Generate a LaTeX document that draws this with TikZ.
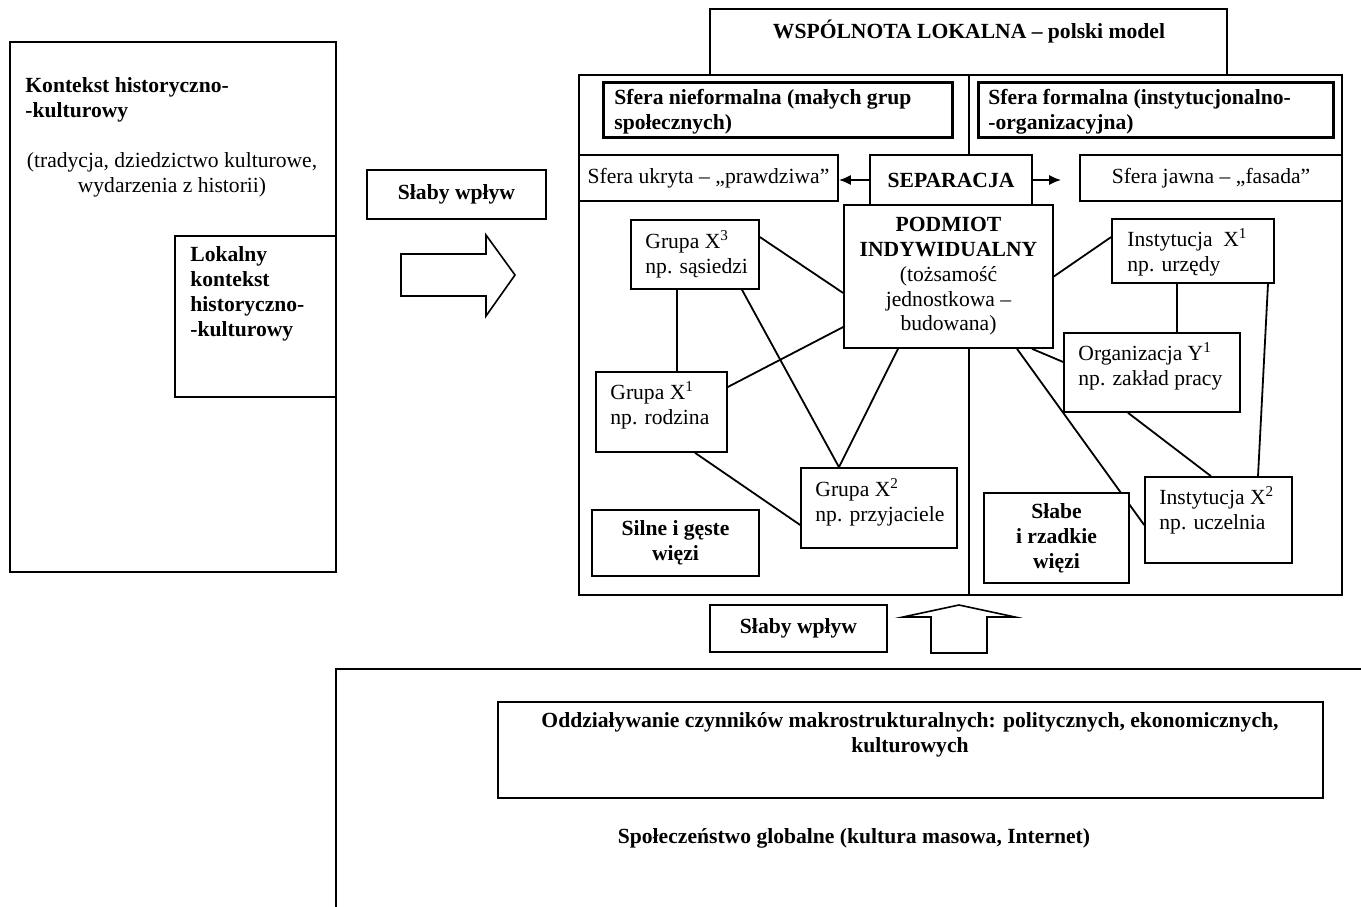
\documentclass[tikz,border=0pt]{standalone}
\usepackage{fontspec}
\setmainfont{Liberation Serif}
\usetikzlibrary{arrows.meta}
\pgfdeclarelayer{background}
\pgfsetlayers{background,main}

\begin{document}
\fontsize{10.8}{12.4}\selectfont
\begin{tikzpicture}[x=0.5pt,y=-0.5pt,
    box/.style={draw,line width=0.8pt,fill=white,inner sep=0pt,align=center},
    rozmiar/.style 2 args={minimum width=#1*0.5pt,minimum height=#2*0.5pt},
    grubybox/.style={box,line width=1.5pt},
    opis/.style={inner sep=0pt,align=left,anchor=west},
    pogrubiony/.style={font=\bfseries},
    link/.style={line width=0.9pt},
    strzalka/.style={draw,line width=0.8pt,fill=white}]
  \useasboundingbox (0,0) rectangle (1361,906);
  \clip (0,0) rectangle (1361,906);

  % Kontekst historyczno-kulturowy
  \node[box,fill=none,rozmiar={326}{530}] (hist) at (173,307) {};
  \node[opis,pogrubiony] (histnazwa) at (25,100) {Kontekst historyczno-\\-kulturowy};
  \node[inner sep=0pt,align=center] (histopis) at (172,175) {(tradycja, dziedzictwo kulturowe,\\wydarzenia z historii)};
  \node[box,rozmiar={161}{161}] (lokalny) at (255.5,316.5) {};
  \node[opis,pogrubiony] (lokalnynazwa) at (190,294) {Lokalny\\kontekst\\historyczno-\\-kulturowy};

  % Slaby wplyw z lewej
  \node[box,pogrubiony,rozmiar={179}{49}] (wplyw1) at (456.5,194.5) {Słaby wpływ};
  \draw[strzalka] (401,254) -- (486,254) -- (486,235) -- (515,275) -- (486,316) -- (486,296) -- (401,296) -- cycle;

  % Wspolnota lokalna
  \node[box,rozmiar={517}{66}] (wspolnota) at (968.5,42) {};
  \node[pogrubiony,inner sep=0pt] (wspolnotanazwa) at (969,32) {WSPÓLNOTA LOKALNA – polski model};
  \node[box,fill=none,rozmiar={763}{520}] (ramka) at (960.5,335) {};

  % Sfery
  \node[grubybox,rozmiar={349}{55}] (nieform) at (777.5,109.5) {};
  \node[opis,pogrubiony] (nieformnazwa) at (614,112) {Sfera nieformalna (małych grup\\społecznych)};
  \node[grubybox,rozmiar={355}{55}] (formal) at (1155.5,109.5) {};
  \node[opis,pogrubiony] (formalnazwa) at (988,112) {Sfera formalna (instytucjonalno-\\-organizacyjna)};

  \node[box,rozmiar={259}{46}] (ukryta) at (708.5,178) {Sfera ukryta – „prawdziwa”};
  \node[box,pogrubiony,rozmiar={162}{50}] (separacja) at (951,180) {SEPARACJA};
  \node[box,rozmiar={262}{46}] (jawna) at (1211,178) {Sfera jawna – „fasada”};
  \draw[link,-{Latex[length=6pt,width=5pt]}] (separacja.west) -- (separacja.west -| ukryta.east);
  \draw[link,-{Latex[length=6pt,width=5pt]},shorten >=9pt] (separacja.east) -- (separacja.east -| jawna.west);

  % Podmiot
  \node[box,rozmiar={209}{143}] (podmiot) at (948.5,276.5) {\textbf{PODMIOT}\\\textbf{INDYWIDUALNY}\\(tożsamość\\jednostkowa –\\budowana)};

  % Grupy (sfera nieformalna)
  \node[box,rozmiar={128}{69}] (grx3) at (695,254.5) {};
  \node[opis] (grx3opis) at (645,254) {Grupa X\textsuperscript{3}\\np. sąsiedzi};
  \node[box,rozmiar={131}{80}] (grx1) at (661.5,412) {};
  \node[opis] (grx1opis) at (610,405) {Grupa X\textsuperscript{1}\\np. rodzina};
  \node[box,rozmiar={156}{80}] (grx2) at (879,508) {};
  \node[opis] (grx2opis) at (815,502) {Grupa X\textsuperscript{2}\\np. przyjaciele};
  \node[box,pogrubiony,rozmiar={167}{66}] (silne) at (675.5,543) {Silne i gęste\\więzi};

  % Instytucje (sfera formalna)
  \node[box,rozmiar={162}{64}] (instx1) at (1193,251) {};
  \node[opis] (instx1opis) at (1127,252) {Instytucja\ \ X\textsuperscript{1}\\np. urzędy};
  \node[box,rozmiar={176}{79}] (orgy1) at (1152,372.5) {};
  \node[opis] (orgy1opis) at (1078,366) {Organizacja Y\textsuperscript{1}\\np. zakład pracy};
  \node[box,rozmiar={147}{86}] (instx2) at (1218.5,520) {};
  \node[opis] (instx2opis) at (1159,510) {Instytucja X\textsuperscript{2}\\np. uczelnia};
  \node[box,pogrubiony,rozmiar={145}{90}] (slabe) at (1056.5,538) {Słabe\\i rzadkie\\więzi};

  \begin{pgfonlayer}{background}
    \draw[line width=0.8pt] (969,75) -- (969,595);
    \draw[link] ([yshift=8.75pt]grx3.east) -- ([yshift=-8.25pt]podmiot.west);
    \draw[link] ([xshift=-9pt]grx3.south) -- ([xshift=7.75pt]grx1.north);
    \draw[link] ([xshift=23.5pt]grx3.south) -- ([xshift=-20pt]grx2.north);
    \draw[link] ([yshift=12.5pt]grx1.east) -- ([yshift=-25.25pt]podmiot.west);
    \draw[link] ([xshift=-25.25pt]podmiot.south) -- ([xshift=-20pt]grx2.north);
    \draw[link] ([xshift=16.75pt]grx1.south) -- ([yshift=-8.5pt]grx2.west);
    \draw[link] (podmiot.east) -- ([yshift=7pt]instx1.west);
    \draw[link] ([xshift=-8pt]instx1.south) -- ([xshift=12.5pt]orgy1.north);
    \draw[link] ([xshift=37.5pt]instx1.south) -- ([xshift=19.75pt]instx2.north);
    \draw[link] ([xshift=41.75pt]podmiot.south) -- ([yshift=5.25pt]orgy1.west);
    \draw[link] ([xshift=34.25pt]podmiot.south) -- ([yshift=-2.5pt]instx2.west);
    \draw[link] ([xshift=-12pt]orgy1.south) -- ([xshift=-3.75pt]instx2.north);
  \end{pgfonlayer}

  % Slaby wplyw z dolu
  \node[box,pogrubiony,rozmiar={177}{47}] (wplyw2) at (798.5,628.5) {Słaby wpływ};
  \draw[strzalka] (931,653) -- (931,617) -- (903,617) -- (959,605) -- (1015,617) -- (987,617) -- (987,653) -- cycle;

  % Spoleczenstwo globalne
  \draw[line width=0.8pt] (336,669) rectangle (1400,950);
  \node[box,rozmiar={825}{96}] (makro) at (910.5,750) {};
  \node[pogrubiony,inner sep=0pt,align=center] (makroopis) at (910,735) {Oddziaływanie czynników makrostrukturalnych: politycznych, ekonomicznych,\\kulturowych};
  \node[pogrubiony,inner sep=0pt] (globalne) at (854,838) {Społeczeństwo globalne (kultura masowa, Internet)};
\end{tikzpicture}
\end{document}
